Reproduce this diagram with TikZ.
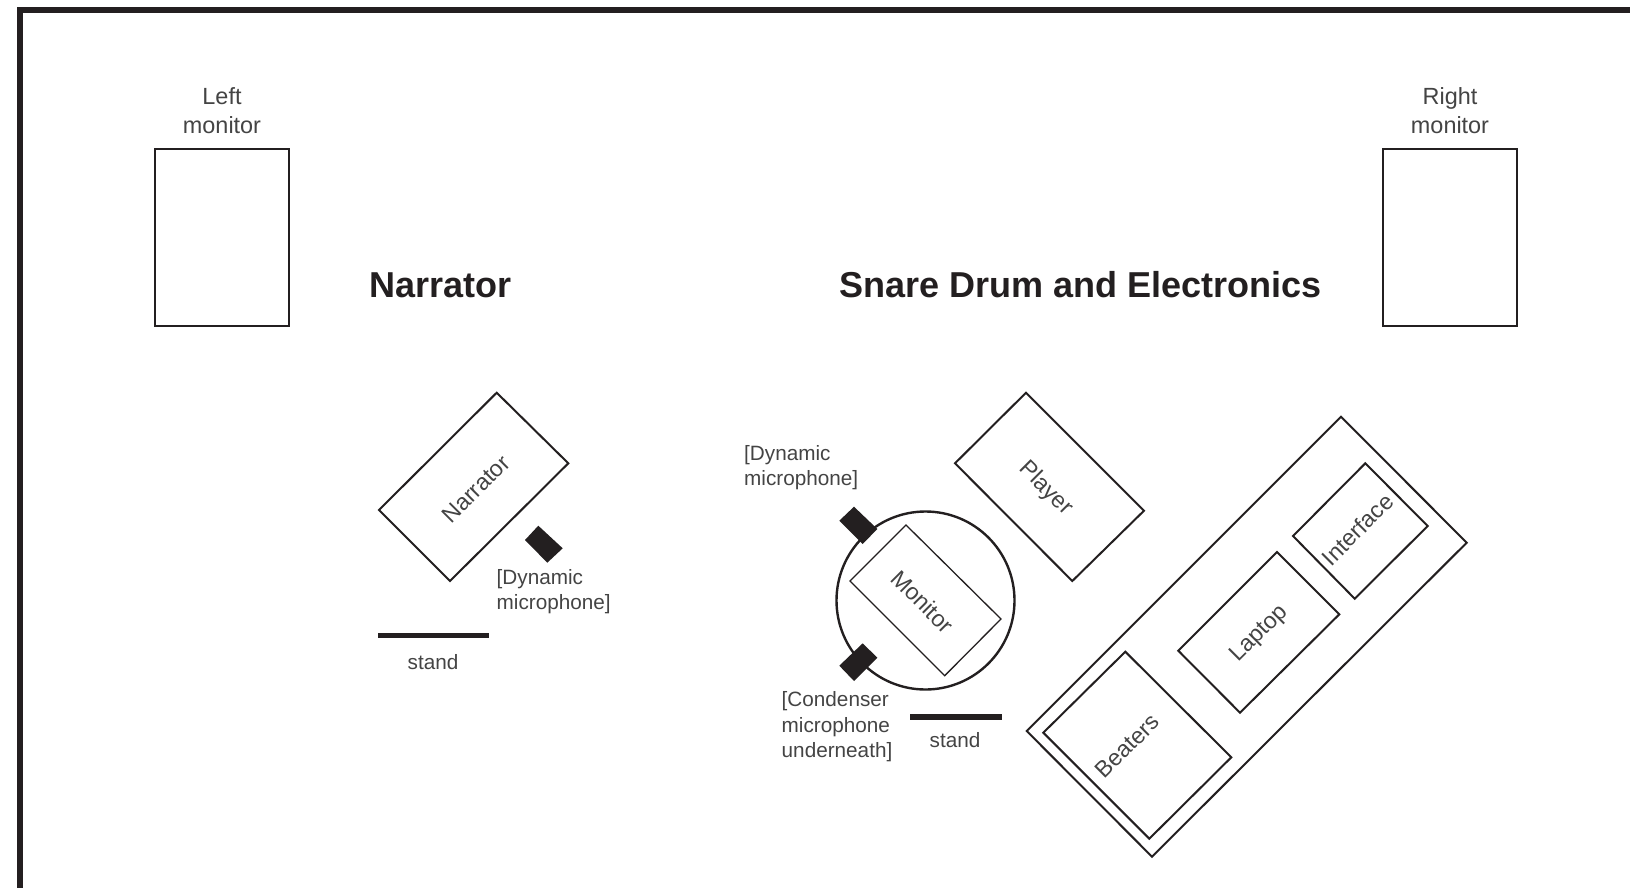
\documentclass[tikz,border=0pt]{standalone}
\usepackage{fontspec}
\setmainfont{Liberation Sans}
\definecolor{ink}{HTML}{231F20}
\definecolor{txt}{HTML}{444444}
\tikzset{
  framing/.style={draw=ink,line width=6pt,miter limit=10},
  shapeline/.style={draw=ink,line width=2pt,line join=miter},
  ringline/.style={draw=ink,line width=2.4pt},
  thinline/.style={draw=ink,line width=1.3pt,line join=miter},
  micfill/.style={fill=ink,draw=none},
  standbar/.style={draw=ink,line width=5.5pt},
  lab/.style={text=txt,font=\fontsize{20.8}{25.5}\selectfont,inner sep=0pt,align=left},
  toplab/.style={text=txt,font=\fontsize{23.5}{29}\selectfont,inner sep=0pt,align=center},
  onshape/.style={text=txt,font=\fontsize{23.2}{28}\selectfont,inner sep=0pt},
  heading/.style={text=ink,font=\fontsize{36.15}{40}\selectfont\bfseries,inner sep=0pt,anchor=west}
}
\begin{document}
\begin{tikzpicture}[x=1bp,y=-1bp]
\useasboundingbox (0,0) rectangle (1630,887);
\clip (0,0) rectangle (1630,887);
\fill[white] (0,0) rectangle (1630,887);
% frame
\draw[framing] (20,900) -- (20,10) -- (1640,10);
% monitors
\draw[shapeline] (155,149) rectangle (289,326);
\draw[shapeline] (1383,149) rectangle (1517,326);
\node[toplab] (leftmon) at (222,111) {Left\\monitor};
\node[toplab] (rightmon) at (1450,111) {Right\\monitor};
% headings
\node[heading] (h1) at (369,285) {Narrator};
\node[heading] (h2) at (839,285) {Snare Drum and Electronics};
% narrator group
\draw[shapeline] (496.7,392.7) -- (568.3,463.3) -- (450,581) -- (379,510) -- cycle;
\node[onshape,rotate=45] (narr) at (476,489) {Narrator};
\fill[micfill] (538.3,525.7) -- (562.7,548.3) -- (547.3,562.7) -- (525,540) -- cycle;
\node[lab,anchor=west] (dyn1) at (496.5,591.5) {[Dynamic\\microphone]};
\draw[standbar] (378,635.5) -- (489,635.5);
\node[lab] (stand1) at (433,662) {stand};
% player
\draw[shapeline] (1026,392.7) -- (1144,510.7) -- (1072.3,581) -- (955,463.3) -- cycle;
\node[onshape,rotate=-45] (player) at (1045.5,488.5) {Player};
% drum
\draw[ringline] (925.5,600.5) circle (89);
\draw[thinline] (906,525) -- (1001,619) -- (944.7,675.7) -- (850,581) -- cycle;
\node[onshape,rotate=-45] (moni) at (922.5,601.5) {Monitor};
\fill[micfill] (854,506.7) -- (877.3,529) -- (862.7,544) -- (839.3,520.7) -- cycle;
\fill[micfill] (862.7,643.3) -- (877.3,657.7) -- (854,681) -- (839.3,665.7) -- cycle;
\node[lab,anchor=west] (dyn2) at (744,467.5) {[Dynamic\\microphone]};
\node[lab,anchor=west] (cond) at (781.5,727) {[Condenser\\microphone\\underneath]};
\draw[standbar] (910,717) -- (1002,717);
\node[lab] (stand2) at (955,740) {stand};
% table
\draw[shapeline] (1341,416.7) -- (1466.7,542.7) -- (1152,856.7) -- (1026.7,731) -- cycle;
\draw[shapeline] (1125.3,651.7) -- (1231.3,757.3) -- (1149.3,838.7) -- (1043.3,732.7) -- cycle;
\node[onshape,rotate=45] (beat) at (1127,746) {Beaters};
\draw[shapeline] (1277,552) -- (1339.3,614.3) -- (1240,712.7) -- (1178.3,650.7) -- cycle;
\node[onshape,rotate=45] (lap) at (1259.5,634) {Laptop};
\draw[shapeline] (1365.3,463.3) -- (1427.7,526) -- (1354.7,598.7) -- (1293,536) -- cycle;
\node[onshape,rotate=45] (iface) at (1357.5,529.5) {Interface};
\end{tikzpicture}
\end{document}
